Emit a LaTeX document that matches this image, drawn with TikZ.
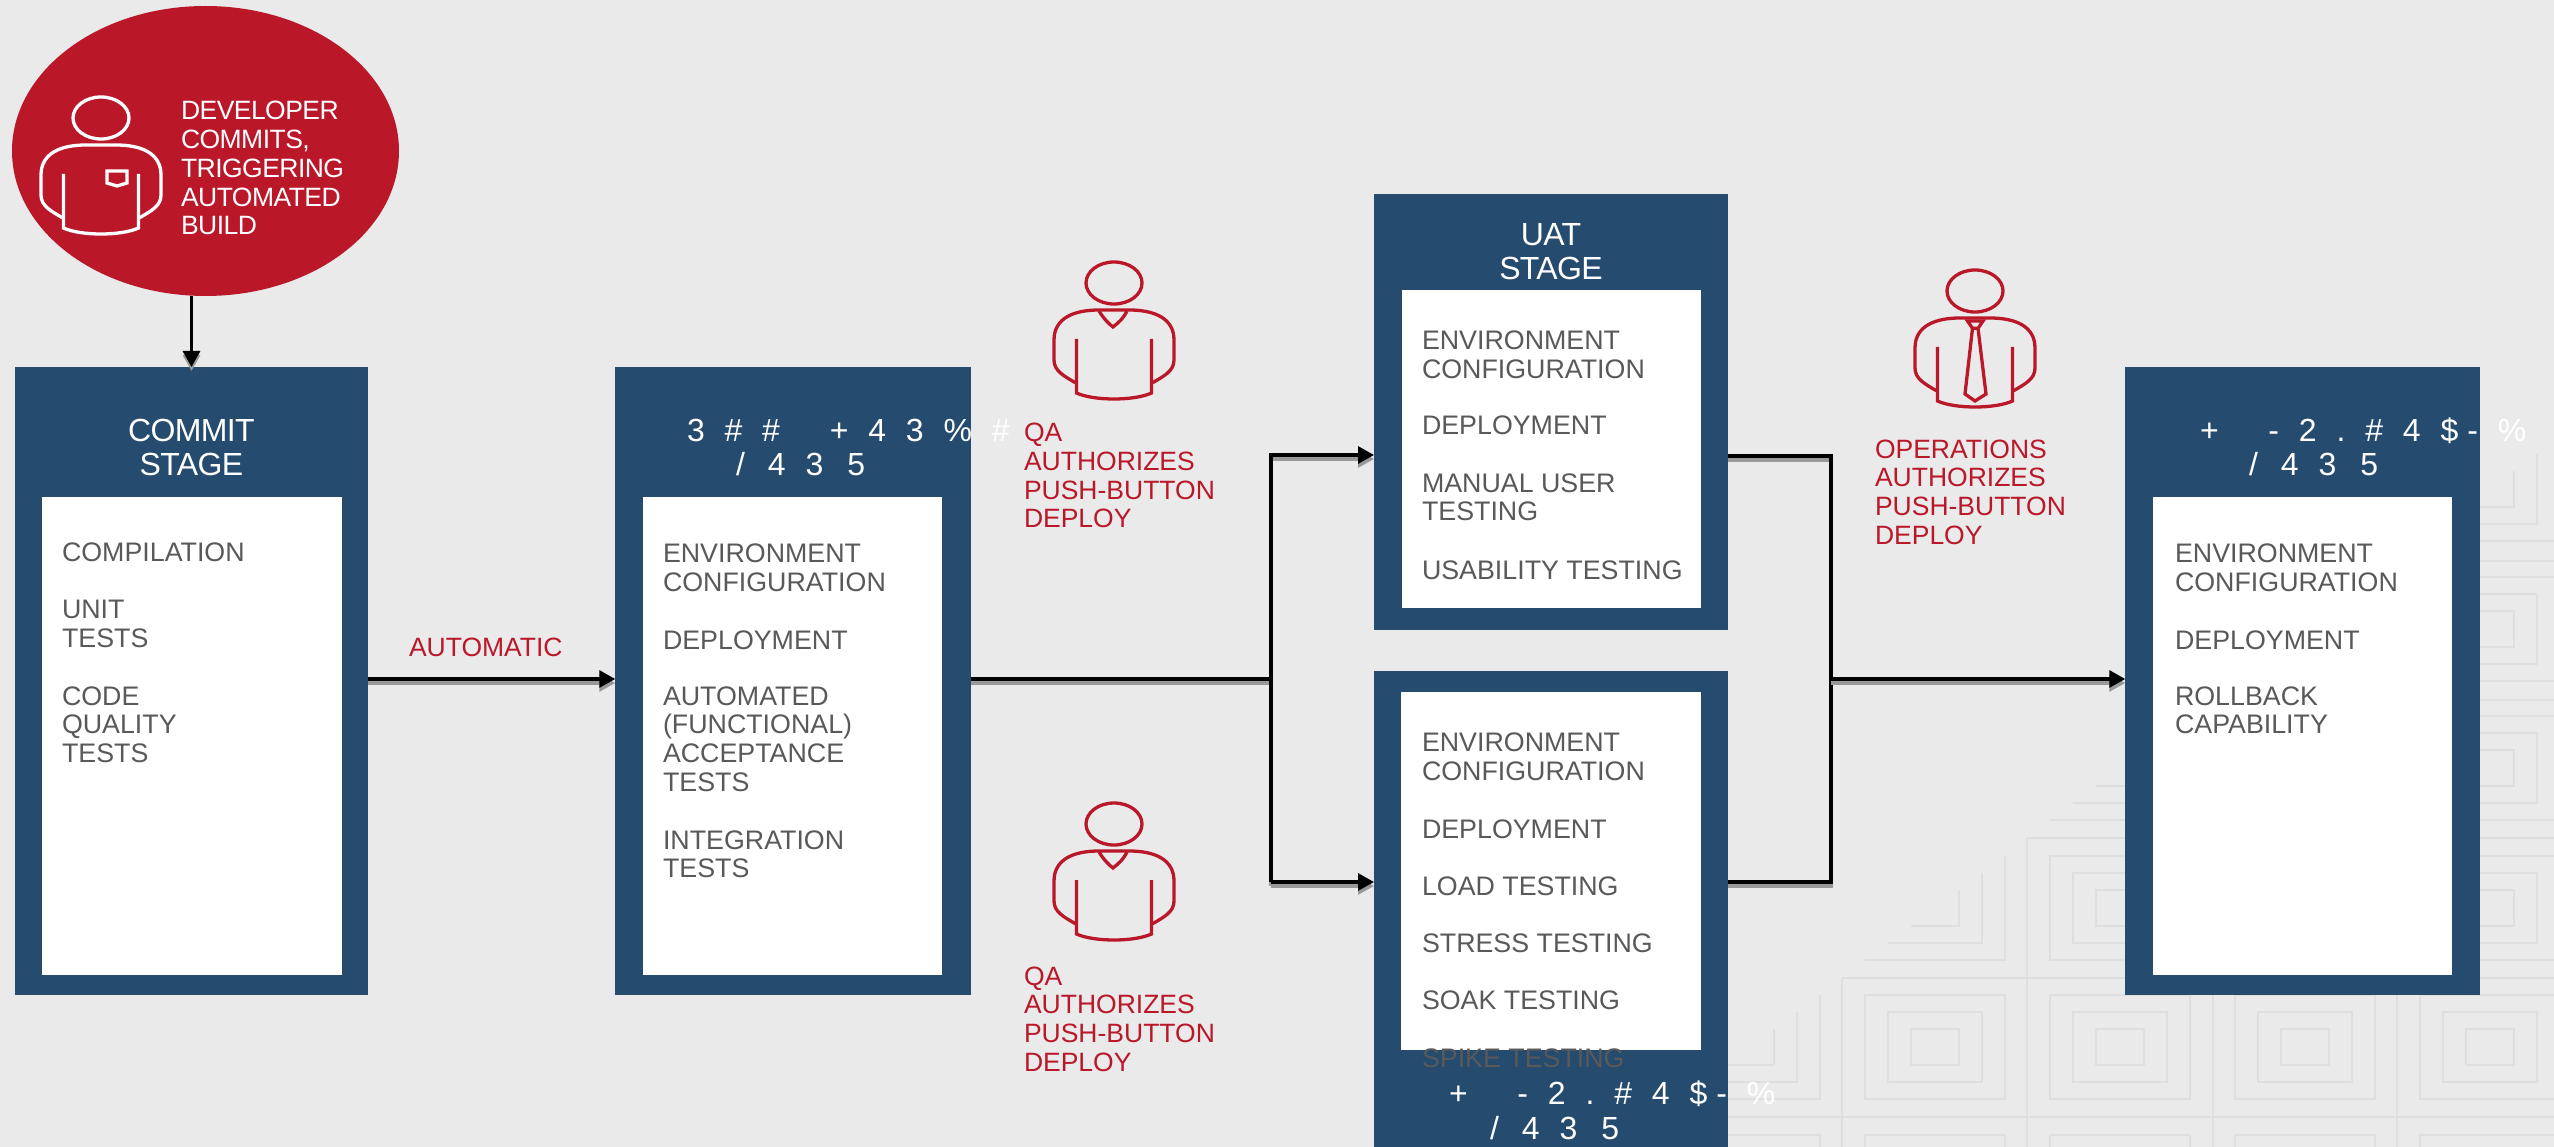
\documentclass[tikz,border=0pt]{standalone}
\usepackage{fontspec}
\usetikzlibrary{arrows.meta,shapes.geometric}
\setmainfont{Liberation Sans}
\newfontfamily\tightfont[LetterSpace=-2]{Liberation Sans}
\newfontfamily\titlefont[LetterSpace=-2]{Liberation Sans}
\newfontfamily\widefont[LetterSpace=62]{Liberation Sans}
\definecolor{bgc}{HTML}{EAEAEA}
\definecolor{bluec}{HTML}{254B6F}
\definecolor{redc}{HTML}{BA1829}
\definecolor{greyc}{HTML}{595959}
\definecolor{patc}{HTML}{DFDFDF}
\definecolor{shadc}{HTML}{999999}
\tikzset{
  x=1pt,y=-1pt,
  stage/.style={fill=bluec,draw=none,inner sep=0pt,outer sep=0pt,minimum width=#1},
  inbox/.style={fill=white,draw=none,inner sep=0pt,outer sep=0pt},
  listtxt/.style={anchor=base west,inner sep=0pt,outer sep=0pt,align=left,text=greyc,font=\fontsize{26.8}{28.7}\selectfont},
  redtxt/.style={anchor=base west,inner sep=0pt,outer sep=0pt,align=left,text=redc,font=\fontsize{26.5}{28.7}\selectfont},
  devtxt/.style={anchor=base west,inner sep=0pt,outer sep=0pt,align=left,text=white,font=\tightfont\fontsize{26.5}{28.7}\selectfont},
  stagetxt/.style={anchor=base,inner sep=0pt,outer sep=0pt,align=center,text=white,font=\titlefont\fontsize{32}{34}\selectfont},
  widetxt/.style={anchor=base west,inner sep=0pt,outer sep=0pt,text=white,font=\widefont\fontsize{32}{34}\selectfont},
  link/.style={line width=3.2pt,black,line join=miter},
  linkshadow/.style={line width=3.2pt,shadc,transform canvas={yshift=-4pt}},
  tip/.style={-{Triangle[length=16pt,width=17pt]}},
  patline/.style={line width=1.2pt,patc},
  personbody/.pic={
    \draw (0,-27) ellipse[x radius=28pt,y radius=21pt];
    \draw (-38.7,72.7) .. controls (-50,66) and (-60,61) .. (-60,50) -- (-60,30)
       .. controls (-60,8) and (-40,0) .. (-15,0) -- (15,0)
       .. controls (40,0) and (60,8) .. (60,30) -- (60,50)
       .. controls (60,61) and (50,66) .. (38.7,72.7);
    \draw (-37.5,29) -- (-37.5,83) .. controls (-20,91) and (20,91) .. (37.5,83) -- (37.5,29);
  },
  vneck/.pic={
    \draw (-15,1) .. controls (-10,9) and (-5,14) .. (-1,17) .. controls (4,13) and (9,9) .. (13,1);
  },
  pocket/.pic={
    \draw (6,26) -- (26,26) -- (26,38) -- (16,41) -- (6,38) -- cycle;
  },
  necktie/.pic={
    \draw (-7.5,3) -- (8,3) -- (3,10.3) -- (-2.5,10.3) -- cycle;
    \draw (-2.5,10.3) -- (-10,76) -- (0,83) -- (11,76) -- (3,10.3);
  }
}
\newcommand\fulltile[2]{%
  \draw[patline] (#1-70,#2-52) rectangle (#1+70,#2+52);
  \draw[patline] (#1-47,#2-35) rectangle (#1+47,#2+35);
  \draw[patline] (#1-24,#2-18) rectangle (#1+24,#2+18);
}
\newcommand\cornertile[2]{%
  \draw[patline] (#1+70,#2-52) -- (#1+70,#2+52) -- (#1-70,#2+52);
  \draw[patline] (#1+47,#2-35) -- (#1+47,#2+35) -- (#1-47,#2+35);
  \draw[patline] (#1+24,#2-18) -- (#1+24,#2+18) -- (#1-24,#2+18);
}
\newcommand\linkpair[2][]{%
  \draw[linkshadow,#1] #2;
  \draw[link,#1] #2;
}
\newcommand\slashline{/\hspace{23pt}43\hspace{24pt}5}
\newcommand\stageline{+ \hspace{21pt}-2.\#4\$\hspace{9pt}-\%}
\begin{document}
\begin{tikzpicture}
\useasboundingbox (0,0) rectangle (2554,1147);
\clip (0,0) rectangle (2554,1147);
\fill[bgc] (0,0) rectangle (2554,1147);
% background tiles
\fulltile{1935}{1047}\fulltile{2120}{1047}\fulltile{2305}{1047}\fulltile{2490}{1047}
\fulltile{1750}{1187}\fulltile{1935}{1187}\fulltile{2120}{1187}\fulltile{2305}{1187}\fulltile{2490}{1187}
\fulltile{2120}{908}\fulltile{2305}{908}\fulltile{2490}{908}
\fulltile{2305}{768}\fulltile{2490}{768}
\fulltile{2490}{629}
\cornertile{1750}{1047}\cornertile{1935}{908}\cornertile{2120}{768}\cornertile{2305}{629}\cornertile{2490}{489}
\draw[patline] (1728,1117) -- (2554,1117);
\draw[patline] (1842,978) -- (2554,978);
\draw[patline] (2027,838) -- (2554,838);
\draw[patline] (2213,700) -- (2554,700);
\draw[patline] (2397,561) -- (2554,561);
\draw[patline] (1842,978) -- (1842,1147);
\draw[patline] (2027,838) -- (2027,1147);
\draw[patline] (2213,700) -- (2213,1147);
\draw[patline] (2397,561) -- (2397,1147);
% boxes
\node[fill=redc,draw=none,ellipse,inner sep=0pt,outer sep=0pt,minimum width=387pt,minimum height=290pt] (dev) at (205.5,151) {};
\node[stage=353pt,minimum height=628pt] (commit) at (191.5,681) {};
\node[stage=355.5pt,minimum height=628pt] (build) at (793,681) {};
\node[stage=354pt,minimum height=436pt] (uat) at (1551,412) {};
\node[stage=354pt,minimum height=476pt] (perf) at (1551,909) {};
\node[stage=354.5pt,minimum height=628pt] (prod) at (2302.5,681) {};
\node[inbox,minimum width=300pt,minimum height=478pt] (commitin) at (192,736) {};
\node[inbox,minimum width=299pt,minimum height=478pt] (buildin) at (792.5,736) {};
\node[inbox,minimum width=299pt,minimum height=318pt] (uatin) at (1551.5,449) {};
\node[inbox,minimum width=300pt,minimum height=358pt] (perfin) at (1551,871) {};
\node[inbox,minimum width=299pt,minimum height=478pt] (prodin) at (2302.5,736) {};
% junction points
\coordinate (ja) at (1271,679);
\coordinate (jb) at (1271,455);
\coordinate (jc) at (1271,882);
\coordinate (jd) at (1831,456);
\coordinate (je) at (1831,882);
\coordinate (jf) at (1831,679);
% connectors
\linkpair[tip]{(commit.north |- dev.south) -- (commit.north)}
\linkpair[tip]{(commit.east |- ja) -- (build.west |- ja)}
\linkpair{(build.east |- ja) -- (ja)}
\linkpair[tip]{(jc) -- (jb) -- (uat.west |- jb)}
\linkpair[tip]{(jc) -- (perf.west |- jc)}
\linkpair{(uat.east |- jd) -- (jd) -- (je) -- (perf.east |- je)}
\linkpair[tip]{(jf) -- (prod.west |- jf)}
% people
\begin{scope}[line width=3.3pt,color=white]
\pic at (101,145) {personbody};
\pic at (101,145) {pocket};
\end{scope}
\begin{scope}[line width=3.3pt,color=redc]
\pic at (1114,310) {personbody};
\pic at (1114,310) {vneck};
\pic at (1114,851) {personbody};
\pic at (1114,851) {vneck};
\pic at (1975,318) {personbody};
\pic at (1975,318) {necktie};
\end{scope}
% texts (base of a node is the baseline of its last line)
\node[devtxt] (tdev) at (181,234.8) {DEVELOPER\\COMMITS,\\TRIGGERING\\AUTOMATED\\BUILD};
\node[stagetxt] (tcommit) at (191.5,475.5) {COMMIT\\STAGE};
\node[stagetxt] (tuat) at (1551,280) {UAT\\STAGE};
\node[widetxt] (tbuilda) at (687,441) {3\#\# \hspace{21pt}+43\%\#};
\node[widetxt] (tbuildb) at (736,475) {\slashline};
\node[widetxt] (tperfa) at (1449,1104) {\stageline};
\node[widetxt] (tperfb) at (1490,1139) {\slashline};
\node[widetxt] (tproda) at (2200,441) {\stageline};
\node[widetxt] (tprodb) at (2249,475) {\slashline};
\node[listtxt] (c1) at (62,561.7) {COMPILATION};
\node[listtxt] (c2) at (62,647.4) {UNIT\\TESTS};
\node[listtxt] (c3) at (62,762.4) {CODE\\QUALITY\\TESTS};
\node[listtxt] (b1) at (663,591.5) {ENVIRONMENT\\CONFIGURATION};
\node[listtxt] (b2) at (663,649) {DEPLOYMENT};
\node[listtxt] (b3) at (663,791.1) {AUTOMATED\\(FUNCTIONAL)\\ACCEPTANCE\\TESTS};
\node[listtxt] (b4) at (663,877.7) {INTEGRATION\\TESTS};
\node[listtxt] (u1) at (1422,378.7) {ENVIRONMENT\\CONFIGURATION};
\node[listtxt] (u2) at (1422,435) {DEPLOYMENT};
\node[listtxt] (u3) at (1422,520.7) {MANUAL USER\\TESTING};
\node[listtxt] (u4) at (1422,579) {USABILITY TESTING};
\node[listtxt] (p1) at (1422,780) {ENVIRONMENT\\CONFIGURATION};
\node[listtxt] (p2) at (1422,838) {DEPLOYMENT};
\node[listtxt] (p3) at (1422,895) {LOAD TESTING};
\node[listtxt] (p4) at (1422,952) {STRESS TESTING};
\node[listtxt] (p5) at (1422,1009.5) {SOAK TESTING};
\node[listtxt] (p6) at (1422,1067) {SPIKE TESTING};
\node[listtxt] (r1) at (2175,591.5) {ENVIRONMENT\\CONFIGURATION};
\node[listtxt] (r2) at (2175,649) {DEPLOYMENT};
\node[listtxt] (r3) at (2175,733.7) {ROLLBACK\\CAPABILITY};
\node[redtxt] (auto) at (409,656) {AUTOMATIC};
\node[redtxt] (qa1) at (1024,527.8) {QA\\AUTHORIZES\\PUSH-BUTTON\\DEPLOY};
\node[redtxt] (qa2) at (1024,1071.1) {QA\\AUTHORIZES\\PUSH-BUTTON\\DEPLOY};
\node[redtxt] (ops) at (1875,544.1) {OPERATIONS\\AUTHORIZES\\PUSH-BUTTON\\DEPLOY};
\end{tikzpicture}
\end{document}
